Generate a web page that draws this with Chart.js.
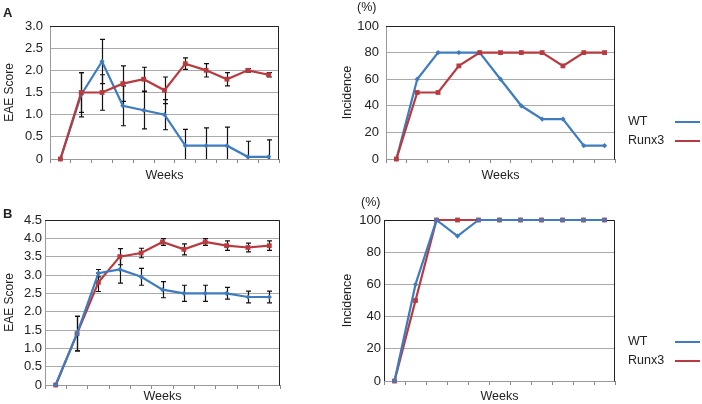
<!DOCTYPE html>
<html><head><meta charset="utf-8">
<script src="https://cdn.jsdelivr.net/npm/chart.js@4"></script>
<style>
html,body{margin:0;padding:0;background:#fff;overflow:hidden;width:702px;height:404px;}
body{position:relative;font-family:"Liberation Sans",Arial,sans-serif;color:#222;}
canvas{position:absolute;}
.lbl{position:absolute;font-size:12.5px;line-height:1;white-space:nowrap;}
.panel{position:absolute;font-size:13px;font-weight:bold;line-height:1;}
.leg{position:absolute;height:0;border-top:2px solid;width:25px;}
</style></head><body>
<canvas id="cA1" width="300" height="192" style="left:0;top:0"></canvas>
<canvas id="cA2" width="290" height="192" style="left:340px;top:0"></canvas>
<canvas id="cB1" width="300" height="209" style="left:0;top:195px"></canvas>
<canvas id="cB2" width="290" height="209" style="left:340px;top:195px"></canvas>
<div class="panel" style="left:3px;top:6px">A</div>
<div class="panel" style="left:3px;top:207px">B</div>
<div class="lbl" style="left:357px;top:1px">(%)</div>
<div class="lbl" style="left:361px;top:196px">(%)</div>
<div class="lbl" style="left:628px;top:115px">WT</div>
<div class="lbl" style="left:628px;top:134px">Runx3</div>
<div class="leg" style="left:675px;top:121px;border-color:#3e7cbf"></div>
<div class="leg" style="left:675px;top:140px;border-color:#b83a3f"></div>
<div class="lbl" style="left:628px;top:335px">WT</div>
<div class="lbl" style="left:628px;top:354px">Runx3</div>
<div class="leg" style="left:675px;top:341px;border-color:#3e7cbf"></div>
<div class="leg" style="left:675px;top:360px;border-color:#b83a3f"></div>
<script>
const weeks = ['0','1','2','3','4','5','6','7','8','9','10'];
const seriesNames = ['WT','Runx3'];
// Panel A
const scoreA_WT = [0,1.45,2.2,1.2,1.1,1.0,0.3,0.3,0.3,0.05,0.05];
const scoreA_WT_err = [0,0.5,0.5,0.45,0.42,0.34,0.37,0.4,0.42,0.35,0.38];
const scoreA_Runx3 = [0,1.5,1.5,1.7,1.8,1.55,2.15,2.0,1.8,2.0,1.9];
const scoreA_Runx3_err = [0,0.45,0.4,0.4,0.27,0.3,0.13,0.15,0.15,0.04,0.05];
const incA_WT = [0,60,80,80,80,60,40,30,30,10,10];
const incA_Runx3 = [0,50,50,70,80,80,80,80,70,80,80];
// Panel B
const scoreB_WT = [0,1.4,3.05,3.15,2.95,2.6,2.5,2.5,2.5,2.4,2.4];
const scoreB_WT_err = [0,0.47,0.1,0.37,0.23,0.22,0.22,0.22,0.16,0.16,0.16];
const scoreB_Runx3 = [0,1.4,2.8,3.5,3.6,3.9,3.7,3.9,3.8,3.75,3.8];
const scoreB_Runx3_err = [0,0.47,0.25,0.22,0.13,0.09,0.15,0.09,0.13,0.12,0.13];
const incB_WT = [0,60,100,90,100,100,100,100,100,100,100];
const incB_Runx3 = [0,50,100,100,100,100,100,100,100,100,100];

const BLUE = '#3e7cbf', RED = '#b83a3f';
const FAM = '"Liberation Sans", Arial, sans-serif';

const errPlugin = {
  id: 'errbars',
  beforeDatasetsDraw(chart, args, opts) {
    const a = chart.chartArea, ctx = chart.ctx, y = chart.scales.y;
    ctx.save();
    ctx.lineWidth = 1;
    ctx.strokeStyle = opts.leftColor || '#999';
    ctx.beginPath(); ctx.moveTo(a.left + 0.5, a.top); ctx.lineTo(a.left + 0.5, a.bottom + 0.5);
    ctx.stroke();
    ctx.strokeStyle = '#999';
    ctx.beginPath(); ctx.moveTo(a.left, a.bottom + 0.5); ctx.lineTo(a.right, a.bottom + 0.5); ctx.stroke();
    ctx.strokeStyle = '#222';
    ctx.beginPath(); ctx.moveTo(a.left, a.top + 0.5); ctx.lineTo(a.right - 0.5, a.top + 0.5);
    ctx.lineTo(a.right - 0.5, a.bottom + 0.5); ctx.stroke();
    ctx.restore();
    if (!opts.errs) return;
    ctx.save();
    ctx.beginPath(); ctx.rect(a.left, a.top - 2, a.right - a.left, a.bottom - a.top + 2); ctx.clip();
    ctx.strokeStyle = '#111'; ctx.lineWidth = 1.2;
    opts.errs.forEach((err, di) => {
      if (!err) return;
      const meta = chart.getDatasetMeta(di);
      const vals = chart.data.datasets[di].data;
      meta.data.forEach((pt, i) => {
        const e = err[i]; if (!e) return;
        const x = Math.round(pt.x) + 0.5;
        const yt = y.getPixelForValue(vals[i] + e), yb = y.getPixelForValue(vals[i] - e);
        ctx.beginPath();
        ctx.moveTo(x, yt); ctx.lineTo(x, yb);
        ctx.moveTo(x - 2.5, yt); ctx.lineTo(x + 2.5, yt);
        ctx.moveTo(x - 2.5, yb); ctx.lineTo(x + 2.5, yb);
        ctx.stroke();
      });
    });
    ctx.restore();
  }
};

function make(id, cfg) {
  const ds = [
    { label: seriesNames[0], data: cfg.wt, borderColor: BLUE, backgroundColor: BLUE, borderWidth: 2.2,
      pointStyle: 'rectRot', pointRadius: 2.6, pointBorderWidth: 0, order: cfg.wtOrder, tension: 0, clip: false },
    { label: seriesNames[1], data: cfg.rx, borderColor: RED, backgroundColor: RED, borderWidth: 2.2,
      pointStyle: 'rect', pointRadius: 3.4, pointBorderWidth: 0, order: cfg.rxOrder, tension: 0, clip: false }
  ];
  return new Chart(document.getElementById(id), {
    type: 'line',
    data: { labels: weeks, datasets: ds },
    plugins: [errPlugin],
    options: {
      responsive: false, animation: false, devicePixelRatio: 1,
      layout: { padding: { top: cfg.top, right: cfg.right, left: 0, bottom: 0 } },
      plugins: { legend: { display: false }, tooltip: { enabled: false },
        errbars: { errs: cfg.errs, leftColor: cfg.leftColor } },
      scales: {
        x: {
          type: 'category', offset: true,
          grid: { display: true, drawOnChartArea: false, drawTicks: true, tickLength: 4, offset: true, color: '#888' },
          border: { display: false },
          ticks: { display: false },
          title: { display: true, text: 'Weeks', color: '#222', font: { family: FAM, size: 12.5 },
                   padding: { top: 0, bottom: cfg.wPad } },
          afterFit(s) { s.height = cfg.xh; }
        },
        y: {
          min: 0, max: cfg.max,
          ticks: { stepSize: cfg.step, autoSkip: false, color: '#222', font: { family: FAM, size: 13 }, padding: cfg.tpad,
                   callback: cfg.fmt },
          grid: { color: '#aaa', drawTicks: false, lineWidth: 1 },
          border: { display: false },
          title: { display: true, text: cfg.ytitle, color: '#222', font: { family: FAM, size: cfg.ysize },
                   padding: { top: cfg.yPad, bottom: 0 } },
          afterFit(s) { s.width = cfg.yw; }
        }
      }
    }
  });
}
const fmt1 = v => v === 0 ? '0' : v.toFixed(1);
const fmt0 = v => String(v);

make('cA1', { wt: scoreA_WT, rx: scoreA_Runx3, errs: [scoreA_WT_err, scoreA_Runx3_err],
  top: 26, right: 21, xh: 33, yw: 50, max: 3, step: 0.5, fmt: fmt1, tpad: 7,
  ytitle: 'EAE Score', ysize: 12, yPad: 2, wPad: 9, wtOrder: 1, rxOrder: 0 });
make('cA2', { wt: incA_WT, rx: incA_Runx3, errs: null,
  top: 26, right: 15, xh: 33, yw: 46, max: 100, step: 20, fmt: fmt0, tpad: 7,
  ytitle: 'Incidence', ysize: 12.5, yPad: 0, wPad: 9, wtOrder: 1, rxOrder: 0 });
make('cB1', { wt: scoreB_WT, rx: scoreB_Runx3, errs: [scoreB_WT_err, scoreB_Runx3_err],
  top: 25, right: 20, xh: 19, yw: 45, max: 4.5, step: 0.5, fmt: fmt1, tpad: 3,
  ytitle: 'EAE Score', ysize: 12, yPad: 2, wPad: 0, wtOrder: 0, rxOrder: 1 });
make('cB2', { wt: incB_WT, rx: incB_Runx3, errs: null,
  top: 25, right: 15, xh: 23, yw: 44, max: 100, step: 20, fmt: fmt0, tpad: 3,
  ytitle: 'Incidence', ysize: 12.5, yPad: 0, wPad: 0, wtOrder: 0, rxOrder: 1, leftColor: '#222' });
</script>
</body></html>
